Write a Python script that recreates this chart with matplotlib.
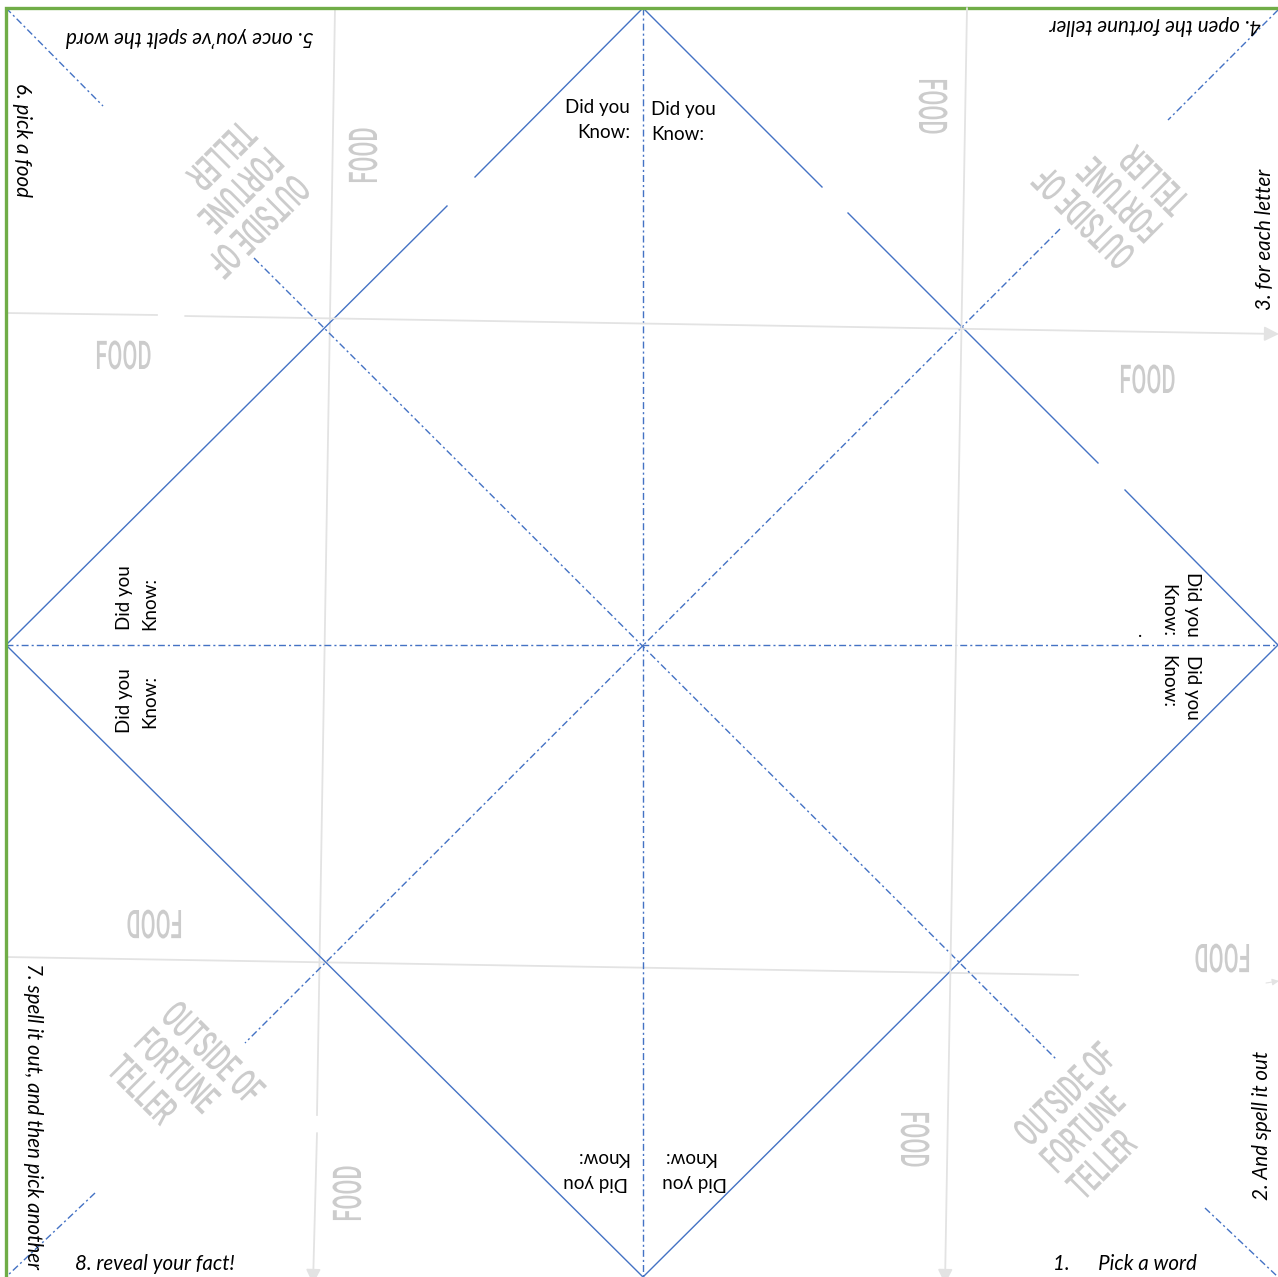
import matplotlib
matplotlib.use("Agg")
import matplotlib.pyplot as plt
from matplotlib.patheffects import AbstractPathEffect
from matplotlib.transforms import Affine2D

W, H = 1278, 1277

# sheet geometry in pixel units of the template (x to the right, y downwards)
border_x = [6, 6, 1278]
border_y = [1277, 8, 8]

# solid cut lines of the diamond, with the gaps left in the template
solid_segments = [
    [(643, 8), (475, 177)],
    [(447, 206), (6, 645)],
    [(643, 8), (822, 187)],
    [(848, 213), (1098, 463)],
    [(1125, 490), (1278, 645)],
    [(6, 645), (643, 1277)],
    [(1278, 645), (643, 1277)],
]

# dash-dot fold lines
fold_segments = [
    [(643, 8), (643, 1277)],
    [(6, 645), (1278, 645)],
    [(6, 8), (103, 106)],
    [(254, 258), (1057, 1060)],
    [(1205, 1208), (1278, 1277)],
    [(1278, 10), (1168, 120)],
    [(1060, 229), (245, 1043)],
    [(95, 1193), (6, 1277)],
]

# light grey guide lines; the last segment of each group ends in an arrow
guide_groups = [
    [[(335, 8), (317, 1115)], [(317, 1133), (313, 1284)]],
    [[(967, 8), (945, 1284)]],
    [[(6, 313), (157, 315)], [(185, 316), (1279, 334)]],
    [[(6, 957), (1078, 975)]],
]
guide_arrow = [True, True, True, False]

# grey panel labels: text, x, y, rotation
food_labels = [
    ("FOOD", 366, 155, 90),
    ("FOOD", 124, 358, 0),
    ("FOOD", 930, 107, -90),
    ("FOOD", 1148, 382, 0),
    ("FOOD", 154, 921, 180),
    ("FOOD", 1222, 955, 180),
    ("FOOD", 350, 1193, 90),
    ("FOOD", 912, 1140, -90),
]
outside_text = "OUTSIDE OF\nFORTUNE\nTELLER"
# start of the middle line, rotation
outside_labels = [
    (274, 153, -135),
    (1157, 233, 135),
    (140, 1037, -45),
    (1049, 1167, 45),
]

# black italic instructions: text, x, y, rotation, ha
steps = [
    ("5. once you\u2019ve spelt the word", 190, 37, 180, "center"),
    ("4. open the fortune teller", 1155, 25, 180, "center"),
    ("6. pick a food", 22, 140, -90, "center"),
    ("3. for each letter", 1265, 239, 90, "center"),
    ("7. spell it out, and then pick another", 33, 963, -90, "left"),
    ("2. And spell it out", 1262, 1125, 90, "center"),
    ("8. reveal your fact!", 155, 1264, 0, "center"),
    ("1.      Pick a word", 1053, 1264, 0, "left"),
]

# "Did you Know:" boxes: x, y, rotation, ha (in text frame)
know_text = "Did you\nKnow:"
know_boxes = [
    (630, 120, 0, "right"),
    (651, 122, 0, "left"),
    (137, 630, 90, "left"),
    (137, 701, 90, "center"),
    (1180, 637, -90, "right"),
    (1180, 655, -90, "left"),
    (628, 1170, 180, "left"),
    (662, 1170, 180, "right"),
]

blue = "#4472C4"
green = "#70AD47"
grey_line = "#e3e3e3"
grey_text = "#cccccc"


class Squeeze(AbstractPathEffect):
    """Narrow each text line along its baseline (condensed look)."""

    def __init__(self, sx, about="center"):
        super().__init__()
        self.sx = sx
        self.about = about

    def draw_path(self, renderer, gc, tpath, affine, rgbFace=None):
        xs = tpath.vertices[:, 0]
        cx = (xs.min() + xs.max()) / 2 if (self.about == "center" and len(xs)) else 0.0
        pre = Affine2D().translate(-cx, 0).scale(self.sx, 1).translate(cx, 0)
        renderer.draw_path(gc, tpath, pre + affine, rgbFace)


fig = plt.figure(figsize=(W / 100, H / 100), dpi=100)
ax = fig.add_axes([0, 0, 1, 1])
ax.set_xlim(0, W)
ax.set_ylim(H, 0)
ax.axis("off")

# guide lines
for group, arrow in zip(guide_groups, guide_arrow):
    for i, seg in enumerate(group):
        (x0, y0), (x1, y1) = seg
        if arrow and i == len(group) - 1:
            ax.annotate("", xy=(x1, y1), xytext=(x0, y0), annotation_clip=False,
                        arrowprops=dict(arrowstyle="-|>", color=grey_line, lw=1.3,
                                        mutation_scale=22, shrinkA=0, shrinkB=0))
        else:
            ax.plot([x0, x1], [y0, y1], color=grey_line, lw=1.3)
# small stray arrow tip at the bottom right
ax.annotate("", xy=(1279, 981), xytext=(1266, 983), annotation_clip=False,
            arrowprops=dict(arrowstyle="-|>", color=grey_line, lw=0.8,
                            mutation_scale=10, shrinkA=0, shrinkB=0))

# fold lines
for (x0, y0), (x1, y1) in fold_segments:
    ax.plot([x0, x1], [y0, y1], color=blue, lw=1.0, dashes=(5, 2.2, 1.5, 2.2))

# cut lines
for (x0, y0), (x1, y1) in solid_segments:
    ax.plot([x0, x1], [y0, y1], color=blue, lw=1.0)

# border
ax.plot(border_x, border_y, color=green, lw=2.4, solid_joinstyle="miter")

grey_font = dict(family="Roboto", weight="medium", color=grey_text, fontsize=28.5,
                 rotation_mode="anchor", va="center")
for txt, x, y, rot in food_labels:
    ax.text(x, y, txt, rotation=rot, ha="center",
            path_effects=[Squeeze(0.55, "center")], **grey_font)
for x, y, rot in outside_labels:
    ax.text(x, y, outside_text, rotation=rot, ha="left", multialignment="left",
            linespacing=1.0, path_effects=[Squeeze(0.57, "left")], **grey_font)

for txt, x, y, rot, ha in steps:
    ax.text(x, y, txt, rotation=rot, rotation_mode="anchor", ha=ha, va="center",
            family="Lato", style="italic", fontsize=14.8, color="black")

for x, y, rot, ha in know_boxes:
    ax.text(x, y, know_text, rotation=rot, rotation_mode="anchor", ha=ha, va="center",
            multialignment=ha, family="Lato", fontsize=13.5, linespacing=1.55,
            color="black")
ax.text(1140, 632, ".", family="Lato", fontsize=13, ha="center", va="center")

fig.savefig("out.png", dpi=100)
